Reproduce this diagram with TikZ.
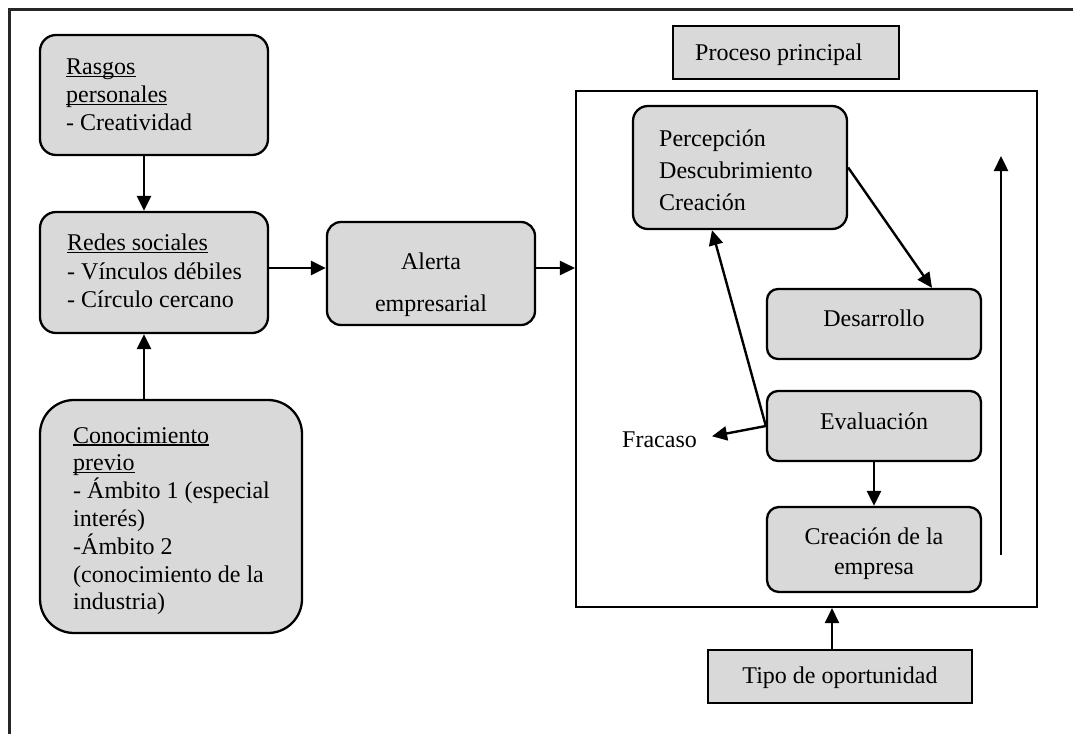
\documentclass[tikz,border=0pt]{standalone}
\usepackage{fontspec}
\setmainfont{Liberation Serif}
\usetikzlibrary{arrows.meta}
\definecolor{boxgray}{RGB}{217,217,217}
% underline sitting just below the baseline
\newcommand\undl[1]{\setbox0\hbox{#1}\rlap{\rule[-2.6pt]{\wd0}{1.3pt}}#1}
\begin{document}
\begin{tikzpicture}[x=1pt,y=-1pt,
  rbox/.style={draw=black, line width=2.3pt, fill=boxgray, inner sep=0pt},
  sqbox/.style={draw=black, line width=2.1pt, fill=boxgray, inner sep=0pt},
  txt/.style={font=\fontsize{24}{28}\selectfont, inner sep=0pt, align=left},
  ctxt/.style={font=\fontsize{24}{28}\selectfont, inner sep=0pt, align=center},
  arr/.style={line width=2.4pt, -{Triangle[length=15pt,width=14pt]}},
]
\useasboundingbox (0,0) rectangle (1073,734);

% outer frame (runs off the page to the right and bottom)
\draw[line width=2.2pt, black!85] (9.5,734) -- (9.5,9.5) -- (1073,9.5);

% left column
\node[rbox, rounded corners=16pt, minimum width=228pt, minimum height=120pt] (rasgos) at (154,95) {};
\node[txt, anchor=north west] (rasgost) at (66,55)
  {\strut\undl{Rasgos}\\\undl{personales}\\- Creatividad};

\node[rbox, rounded corners=16pt, minimum width=228pt, minimum height=121pt] (redes) at (154,272.5) {};
\node[txt, font=\fontsize{24}{28.5}\selectfont, anchor=north west] (redest) at (67,230.4)
  {\strut\undl{Redes sociales}\\- Vínculos débiles\\- Círculo cercano};

\node[rbox, rounded corners=34pt, minimum width=262pt, minimum height=233pt] (conoc) at (171,516.5) {};
\node[txt, font=\fontsize{24}{27.8}\selectfont, anchor=north west] (conoct) at (73,423.4)
  {\strut\undl{Conocimiento}\\\undl{previo}\\- Ámbito 1 (especial\\interés)\\-Ámbito 2\\(conocimiento de la\\industria)};

\node[rbox, rounded corners=14pt, minimum width=208pt, minimum height=103pt] (alerta) at (431,273.5) {};
\node[ctxt, font=\fontsize{24}{42}\selectfont, anchor=north] (alertat) at (431,240)
  {\strut Alerta\\empresarial};

% main process
\node[sqbox, minimum width=226pt, minimum height=53pt] (proceso) at (786,52.5) {};
\node[txt, anchor=base west] (procesot) at (695,60) {Proceso principal};

\node[draw=black, line width=2.1pt, inner sep=0pt, minimum width=461pt, minimum height=516pt] (big) at (806.5,349) {};

\node[rbox, rounded corners=15pt, minimum width=214pt, minimum height=123pt] (percep) at (740,167.5) {};
\node[txt, font=\fontsize{24}{32}\selectfont, anchor=north west] (percept) at (659,123.4)
  {\strut Percepción\\Descubrimiento\\Creación};

\node[rbox, rounded corners=11pt, minimum width=214pt, minimum height=70pt] (desarrollo) at (874,324) {};
\node[ctxt, anchor=base] (desarrollot) at (874,326) {Desarrollo};

\node[rbox, rounded corners=11pt, minimum width=214pt, minimum height=70pt] (evaluacion) at (874,426) {};
\node[ctxt, anchor=base] (evaluaciont) at (874,429) {Evaluación};

\node[rbox, rounded corners=12pt, minimum width=214pt, minimum height=85pt] (creacion) at (874,549.5) {};
\node[ctxt, font=\fontsize{24}{30}\selectfont, anchor=north] (creaciont) at (874,523.4)
  {\strut Creación de la\\empresa};

\node[txt, anchor=base west] (fracaso) at (622,447) {Fracaso};

\node[sqbox, minimum width=264pt, minimum height=53pt] (tipo) at (840,676.5) {};
\node[ctxt, anchor=base] (tipot) at (840,683) {Tipo de oportunidad};

% guide coordinates for the connectors
\coordinate (colx) at (144,0);
\coordinate (rowy) at (0,268);
\coordinate (fbx) at (712,0);
\coordinate (pdx) at (932,0);
\coordinate (tpx) at (832,0);
\coordinate (upbot) at (1001,555);
\coordinate (uptop) at (1001,156);

% connectors
\draw[arr] (rasgos.south -| colx) -- (redes.north -| colx);
\draw[arr] (conoc.north -| colx) -- (redes.south -| colx);
\draw[arr] (redes.east |- rowy) -- (alerta.west |- rowy);
\draw[arr] (alerta.east |- rowy) -- (big.west |- rowy);
\draw[arr] (percep.east) -- (desarrollo.north -| pdx);
\draw[arr] (evaluacion.west) -- (percep.south -| fbx);
\draw[arr] (evaluacion.west) -- ([xshift=15pt,yshift=3pt]fracaso.east);
\draw[arr] (evaluacion.south) -- (creacion.north);
\draw[arr] (upbot) -- (uptop);
\draw[arr] (tipo.north -| tpx) -- (big.south -| tpx);
\end{tikzpicture}
\end{document}
